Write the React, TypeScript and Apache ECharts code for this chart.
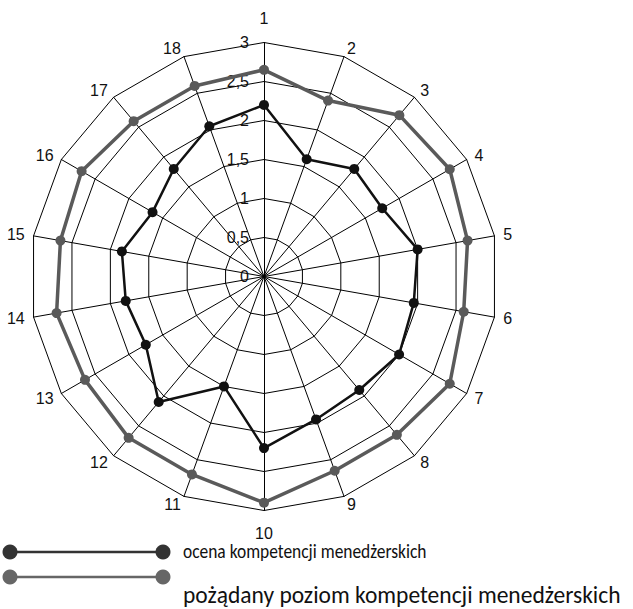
import React, { useEffect, useRef } from "react";
import * as echarts from "echarts";

const indicatorNames = ["1","2","3","4","5","6","7","8","9","10","11","12","13","14","15","16","17","18"];
const ocenaValues = [2.2, 1.6, 1.8, 1.75, 2.0, 1.95, 2.0, 1.9, 1.95, 2.2, 1.5, 2.1, 1.75, 1.8, 1.85, 1.65, 1.8, 2.05];
const pozadanyValues = [2.65, 2.4, 2.7, 2.75, 2.65, 2.6, 2.75, 2.65, 2.65, 2.9, 2.7, 2.7, 2.65, 2.7, 2.65, 2.7, 2.6, 2.6];
const tickValues = [0, 0.5, 1, 1.5, 2, 2.5, 3];
const tickLabels = ["0", "0,5", "1", "1,5", "2", "2,5", "3"];
const seriesNames = ["ocena kompetencji menedżerskich", "pożądany poziom kompetencji menedżerskich"];
const seriesColors = ["#111111", "#5a5a5a"];
const legendColors = ["#333333", "#666666"];

const ARIAL = "Arial, 'Liberation Sans', sans-serif";

export default function App() {
  const ref = useRef<HTMLDivElement>(null);
  useEffect(() => {
    if (!ref.current) return;
    const chart = echarts.init(ref.current, undefined, { renderer: "svg" });
    // ECharts radar runs counter-clockwise; reorder so indicators go clockwise
    const order = [0, ...indicatorNames.map((_, i) => i).slice(1).reverse()];
    const labelStyle = {
      show: true,
      color: "#111",
      fontSize: 16,
      fontFamily: ARIAL,
      margin: 15,
      formatter: (v: number) => {
        const idx = tickValues.findIndex((t) => Math.abs(t - v) < 1e-6);
        return idx >= 0 ? tickLabels[idx] : "";
      },
    };
    const indicator = order.map((i, k) => {
      const o: any = { name: indicatorNames[i], min: 0, max: 3 };
      if (k === 0) o.axisLabel = labelStyle;
      return o;
    });
    const reorder = (arr: number[]) => order.map((i) => arr[i]);

    const legendGraphics: any[] = [];
    const legendLineY = [552, 577];
    const legendTextY = [551, 595];
    const legendScaleX = [0.83, 1];
    const legendFont = ["21px Carlito, Lato", "23.5px Carlito, Lato"];
    seriesNames.forEach((name, i) => {
      legendGraphics.push({
        type: "line",
        shape: { x1: 10, y1: legendLineY[i], x2: 163, y2: legendLineY[i] },
        style: { stroke: legendColors[i], lineWidth: 2.5 },
      });
      legendGraphics.push({ type: "circle", shape: { cx: 10, cy: legendLineY[i], r: 7.5 }, style: { fill: legendColors[i] } });
      legendGraphics.push({ type: "circle", shape: { cx: 163, cy: legendLineY[i], r: 7.5 }, style: { fill: legendColors[i] } });
      legendGraphics.push({
        type: "text",
        x: 183,
        y: legendTextY[i],
        scaleX: legendScaleX[i],
        style: { text: name, fill: "#111", font: legendFont[i], textVerticalAlign: "middle", textAlign: "left" },
      });
    });

    chart.setOption({
      animation: false,
      textStyle: { fontFamily: ARIAL },
      radar: {
        center: [264, 276.5],
        radius: 234,
        shape: "polygon",
        splitNumber: 6,
        indicator,
        axisName: { color: "#111", fontSize: 16, fontFamily: ARIAL, padding: [5.5, 0, 7.5, 0] },
        nameGap: 9,
        axisLine: { lineStyle: { color: "#000", width: 1 } },
        splitLine: { lineStyle: { color: "#000", width: 1 } },
        splitArea: { show: false },
        axisTick: { show: false },
        axisLabel: { show: false },
      },
      series: [
        {
          type: "radar",
          name: seriesNames[1],
          symbol: "circle",
          symbolSize: 10,
          z: 2,
          lineStyle: { color: seriesColors[1], width: 3.5 },
          itemStyle: { color: seriesColors[1] },
          data: [{ value: reorder(pozadanyValues), name: seriesNames[1] }],
        },
        {
          type: "radar",
          name: seriesNames[0],
          symbol: "circle",
          symbolSize: 10,
          z: 3,
          lineStyle: { color: seriesColors[0], width: 2.5 },
          itemStyle: { color: seriesColors[0] },
          data: [{ value: reorder(ocenaValues), name: seriesNames[0] }],
        },
      ],
      graphic: legendGraphics,
    });
    return () => chart.dispose();
  }, []);
  return <div ref={ref} style={{ position: "absolute", left: 0, top: 0, width: 633, height: 609, background: "#fff" }} />;
}
